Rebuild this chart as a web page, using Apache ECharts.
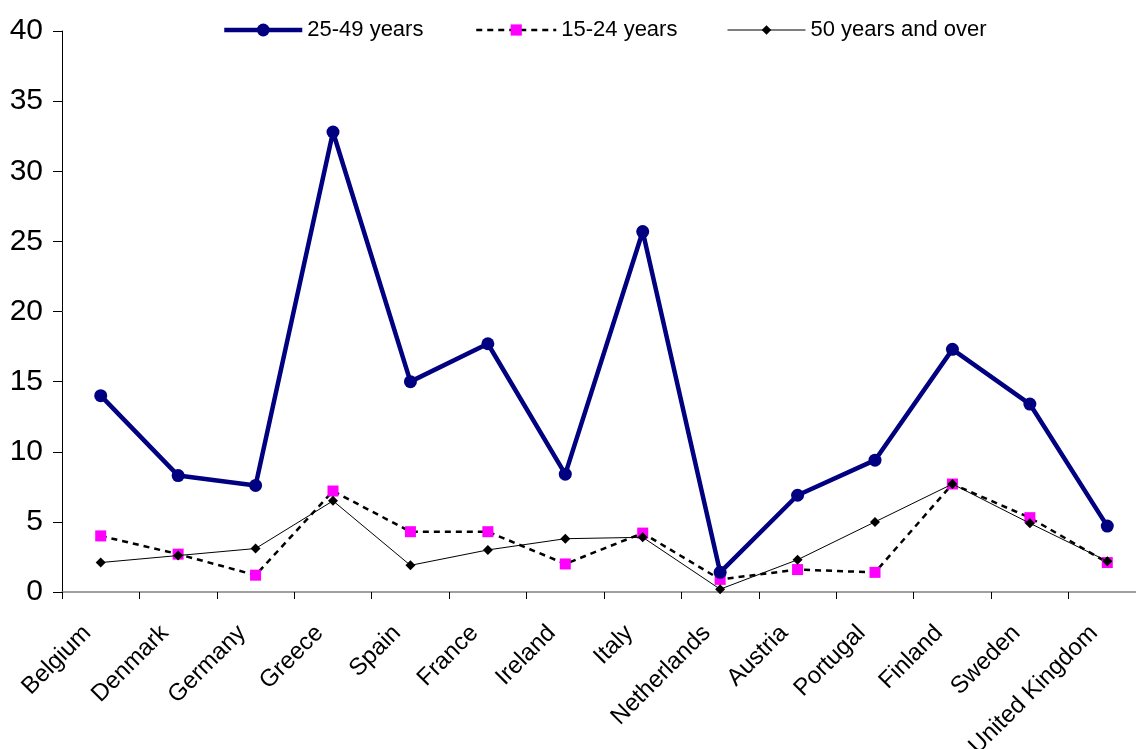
<!DOCTYPE html>
<html><head><meta charset="utf-8">
<script src="https://cdn.jsdelivr.net/npm/echarts@6/dist/echarts.min.js"></script>
<style>html,body{margin:0;padding:0;background:#fff}#c{width:1136px;height:749px}</style>
</head><body><div id="c"></div>
<script>
const categories = ["Belgium","Denmark","Germany","Greece","Spain","France","Ireland","Italy","Netherlands","Austria","Portugal","Finland","Sweden","United Kingdom"];
const age25to49 = [14.0, 8.3, 7.6, 32.8, 15.0, 17.7, 8.4, 25.7, 1.4, 6.9, 9.4, 17.3, 13.4, 4.7];
const age15to24 = [4.0, 2.7, 1.2, 7.2, 4.3, 4.3, 2.0, 4.2, 0.9, 1.6, 1.4, 7.7, 5.3, 2.1];
const age50plus = [2.1, 2.6, 3.1, 6.5, 1.9, 3.0, 3.8, 3.9, 0.2, 2.3, 5.0, 7.7, 4.9, 2.2];
const yTicks = [0, 5, 10, 15, 20, 25, 30, 35, 40];

const font = 'Liberation Sans, Arial, sans-serif';
const chart = echarts.init(document.getElementById('c'), null, {renderer:'canvas'});
const legendText = {fontFamily: font, fontSize: 22, color: '#000'};
chart.setOption({
  animation: false,
  backgroundColor: '#fff',
  grid: {left: 62, top: 31, width: 1084, height: 561, containLabel: false, outerBoundsMode: 'none'},
  legend: [
    {data: ['25-49 years'], left: 222, top: 19, padding: 0, itemWidth: 78, itemHeight: 16, textStyle: legendText,
     lineStyle: {width: 4.5}},
    {data: ['15-24 years'], left: 475, top: 19, padding: 0, itemWidth: 80, itemHeight: 14, textStyle: legendText,
     lineStyle: {width: 2.5, type: [6, 5]}},
    {data: ['50 years and over'], left: 727, top: 19, padding: 0, itemWidth: 78, itemHeight: 12, textStyle: legendText,
     lineStyle: {width: 1}}
  ],
  xAxis: {
    type: 'category', data: categories, boundaryGap: true,
    axisLine: {lineStyle: {color: '#808080', width: 1.5}},
    axisTick: {show: true, alignWithLabel: false, length: 7, lineStyle: {color: '#000'}},
    axisLabel: {rotate: 45, interval: 0, fontFamily: font, fontSize: 24, color: '#000', margin: 24, padding: [0, 19, 0, 0]}
  },
  yAxis: {
    type: 'value', min: yTicks[0], max: yTicks[yTicks.length-1], interval: 5,
    splitLine: {show: false},
    axisLine: {show: true, lineStyle: {color: '#000', width: 1}},
    axisTick: {show: true, length: 9, lineStyle: {color: '#000'}},
    axisLabel: {fontFamily: font, fontSize: 30, color: '#000', margin: 19}
  },
  series: [
    {name: '25-49 years', type: 'line', data: age25to49, z: 3,
     lineStyle: {color: '#000080', width: 4.5}, itemStyle: {color: '#000080'},
     symbol: 'circle', symbolSize: 13},
    {name: '15-24 years', type: 'line', data: age15to24, z: 2,
     lineStyle: {color: '#000', width: 2.5, type: [6, 5]}, itemStyle: {color: '#ff00ff'},
     symbol: 'rect', symbolSize: 11},
    {name: '50 years and over', type: 'line', data: age50plus, z: 4,
     lineStyle: {color: '#000', width: 1}, itemStyle: {color: '#000'},
     symbol: 'diamond', symbolSize: 10}
  ]
});
</script></body></html>
